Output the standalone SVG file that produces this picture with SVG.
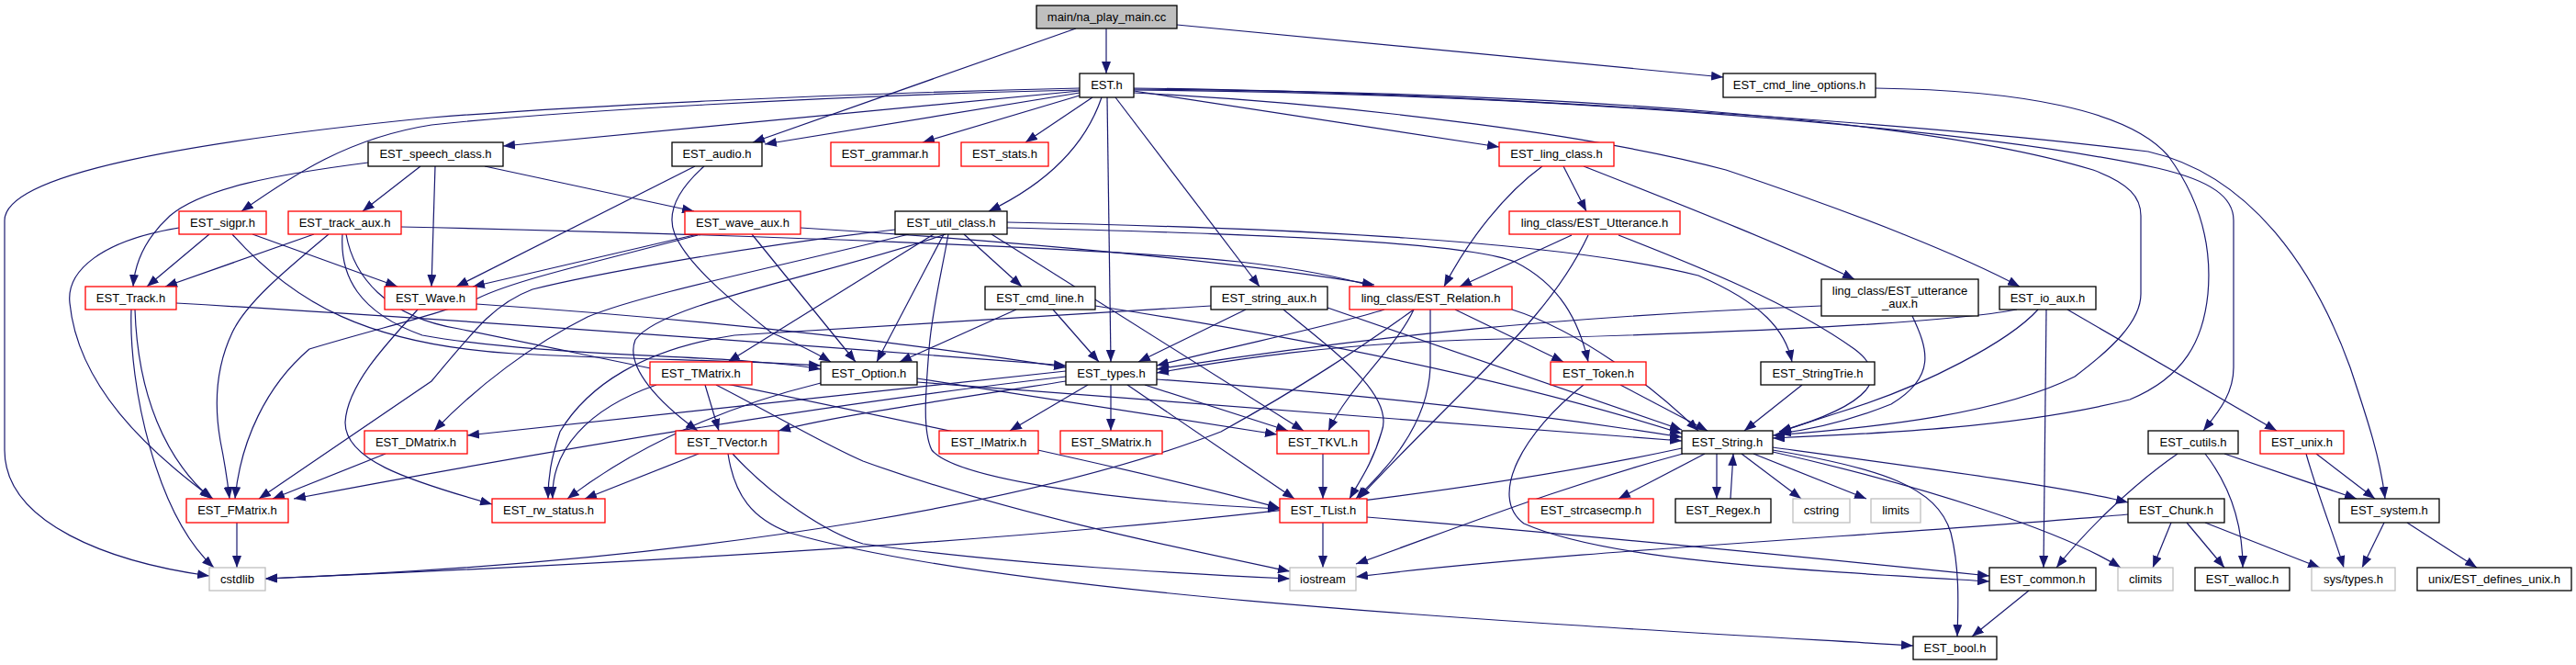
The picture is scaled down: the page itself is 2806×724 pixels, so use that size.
<svg xmlns="http://www.w3.org/2000/svg" width="2806" height="724" viewBox="0 0 2806 724">
<defs>
<marker id="ah" viewBox="0 0 13 10" refX="13" refY="5" markerWidth="13" markerHeight="10" orient="auto" markerUnits="userSpaceOnUse"><path d="M0,0 L13,5 L0,10 z" fill="#191970"/></marker>
</defs>
<style>
.n rect{fill:#fff;stroke-width:1.3}
.b rect{stroke:#000}
.r rect{stroke:#ff0000}
.g rect{stroke:#bfbfbf}
.m rect{fill:#bfbfbf;stroke:#000}
text{font-family:"Liberation Sans",Arial,sans-serif;font-size:13px;fill:#000;text-anchor:middle}
#edges path{fill:none;stroke:#191970;stroke-width:1.2;marker-end:url(#ah)}
</style>
<rect width="2806" height="724" fill="#fff"/>
<g id="edges">
<path d="M1205,31 L1205,80"/>
<path d="M1172,31 L820,155"/>
<path d="M1282,27 L1877,84"/>
<path d="M1176,99 L548,159"/>
<path d="M1176,101 L833,157"/>
<path d="M1176,104 L1005,155"/>
<path d="M1190,106 L1117,155"/>
<path d="M1200,106 C1185,150 1150,195 1077,230"/>
<path d="M1206,106 L1210,394"/>
<path d="M1215,106 L1372,312"/>
<path d="M1235,99 L1633,160"/>
<path d="M1235,101 C1500,115 1750,150 1880,185 C2030,235 2140,280 2200,312"/>
<path d="M1235,96 C1600,100 2100,135 2340,165 C2450,190 2520,290 2560,400 C2580,460 2593,500 2598,543"/>
<path d="M1235,98 C1700,102 2150,140 2350,183 C2410,197 2433,215 2433,240 L2433,400 C2433,430 2415,450 2400,469"/>
<path d="M1235,97 C1700,100 2100,130 2280,185 C2320,200 2332,215 2332,235 L2332,320 C2332,350 2300,380 2260,410 C2180,450 2050,465 1931,474"/>
<path d="M1176,96 C900,102 620,116 470,128 C200,155 5,190 5,240 L5,490 C5,570 120,612 228,627"/>
<path d="M1176,98 C900,104 600,122 470,136 C380,150 320,190 263,230"/>
<path d="M2043,96 C2200,98 2320,120 2362,170 C2395,215 2410,265 2405,320 C2400,370 2380,410 2320,435 C2200,465 2050,472 1931,477"/>
<path d="M401,177 C300,190 220,205 185,235 C160,258 147,285 145,312"/>
<path d="M458,181 L395,230"/>
<path d="M474,181 L470,312"/>
<path d="M528,181 L756,230"/>
<path d="M757,181 L497,312"/>
<path d="M767,181 C740,205 725,230 735,255 C750,290 800,330 840,362 C870,375 890,385 905,394"/>
<path d="M228,255 L160,312"/>
<path d="M275,255 L433,312"/>
<path d="M195,248 C110,262 72,295 76,330 C85,420 160,490 232,543"/>
<path d="M253,255 C320,330 400,375 560,385 C700,392 800,392 894,398"/>
<path d="M342,255 L180,312"/>
<path d="M437,247 C800,255 1200,270 1350,285 C1420,293 1460,302 1497,312"/>
<path d="M358,255 C310,295 268,330 253,362 C235,400 233,440 240,480 C245,505 248,525 250,543"/>
<path d="M373,255 C370,300 390,340 460,365 C600,390 800,385 894,402"/>
<path d="M377,255 C385,300 420,345 500,358 C800,420 1200,500 1394,553"/>
<path d="M760,255 L515,312"/>
<path d="M819,255 L932,394"/>
<path d="M872,248 C1100,262 1350,285 1497,310"/>
<path d="M760,256 C650,285 560,305 520,325 C470,345 420,355 337,380 C290,420 262,480 256,543"/>
<path d="M975,250 C800,270 640,300 580,315 C540,330 520,355 470,415 L282,543"/>
<path d="M990,255 C850,290 700,320 640,345 C580,375 520,420 473,469"/>
<path d="M1017,255 L793,394"/>
<path d="M1030,255 C900,300 720,330 692,370 C680,400 720,440 760,469"/>
<path d="M1050,255 L1113,312"/>
<path d="M1028,255 L955,394"/>
<path d="M1033,255 C1025,300 1015,340 1012,380 C1008,430 1005,470 1015,490 C1040,520 1200,545 1394,554"/>
<path d="M1080,255 L1420,469"/>
<path d="M1097,248 C1400,255 1600,265 1650,285 C1700,310 1720,350 1730,394"/>
<path d="M1097,242 C1400,248 1700,262 1850,300 C1920,330 1945,360 1952,394"/>
<path d="M715,419 C640,445 600,490 602,543"/>
<path d="M768,419 L783,469"/>
<path d="M780,419 C850,455 900,485 940,502 C1100,560 1300,600 1405,622"/>
<path d="M761,494 L637,543"/>
<path d="M798,494 C840,540 900,580 940,592 C1100,615 1300,625 1405,630"/>
<path d="M793,494 C800,540 820,565 860,580 C1100,650 1700,680 2084,703"/>
<path d="M455,337 C420,375 378,420 376,460 C376,500 440,522 536,549"/>
<path d="M519,331 C800,350 1000,375 1161,400"/>
<path d="M192,330 C450,345 800,370 1161,398"/>
<path d="M143,337 C140,420 170,560 233,618"/>
<path d="M147,337 C150,430 180,500 230,543"/>
<path d="M420,494 L297,543"/>
<path d="M258,569 L258,618"/>
<path d="M1319,333 C1100,345 900,358 800,365 C700,380 640,420 610,470 C600,500 597,520 597,543"/>
<path d="M894,417 C800,440 700,480 618,543"/>
<path d="M999,412 L1391,473"/>
<path d="M999,416 C1300,440 1600,460 1832,480"/>
<path d="M1107,337 L980,394"/>
<path d="M1147,337 L1197,394"/>
<path d="M1193,333 C1500,380 1700,430 1832,472"/>
<path d="M1185,419 L1100,469"/>
<path d="M1210,419 L1210,469"/>
<path d="M1247,419 L1403,469"/>
<path d="M1228,419 L1410,543"/>
<path d="M1260,413 C1500,430 1700,455 1832,476"/>
<path d="M1161,404 C900,430 700,455 509,474"/>
<path d="M1161,410 C900,440 600,490 320,543"/>
<path d="M1161,415 C1000,440 900,455 848,469"/>
<path d="M1441,494 L1441,543"/>
<path d="M1441,569 L1441,618"/>
<path d="M1489,563 C1700,580 1950,605 2167,627"/>
<path d="M1765,419 L1860,469"/>
<path d="M1725,419 C1660,470 1620,540 1660,570 C1750,610 1950,620 2167,633"/>
<path d="M1357,337 L1240,394"/>
<path d="M1398,337 C1450,380 1520,430 1505,470 C1495,505 1480,525 1470,543"/>
<path d="M1446,335 L1832,468"/>
<path d="M1508,337 C1450,355 1350,375 1260,398"/>
<path d="M1540,337 C1480,380 1420,420 1330,470 C1150,540 800,610 289,630"/>
<path d="M1540,337 C1520,380 1470,420 1447,469"/>
<path d="M1558,337 L1558,400 C1555,470 1500,520 1477,543"/>
<path d="M1585,337 L1703,394"/>
<path d="M1647,337 C1720,360 1800,420 1850,469"/>
<path d="M1680,181 C1640,210 1600,260 1573,312"/>
<path d="M1703,181 L1728,230"/>
<path d="M1725,181 C1850,230 1950,270 2020,304"/>
<path d="M1712,256 L1590,312"/>
<path d="M1730,256 C1700,320 1650,370 1600,420 C1540,480 1500,520 1480,543"/>
<path d="M1763,256 C1850,290 1950,330 2020,380 C2060,410 2040,440 1938,470"/>
<path d="M1984,333 C1700,345 1500,365 1260,402"/>
<path d="M2083,344 C2100,380 2110,410 2060,440 C2010,460 1970,468 1938,472"/>
<path d="M2197,337 C2100,355 1800,365 1600,370 C1450,375 1350,390 1260,406"/>
<path d="M2220,337 C2190,370 2100,420 2000,450 C1970,460 1950,466 1938,470"/>
<path d="M2229,337 L2226,618"/>
<path d="M2252,337 L2480,469"/>
<path d="M1963,419 L1900,469"/>
<path d="M1870,494 L1870,543"/>
<path d="M1885,543 L1888,494"/>
<path d="M1857,494 L1763,543"/>
<path d="M1897,494 L1962,543"/>
<path d="M1910,494 L2033,543"/>
<path d="M1931,490 C2050,510 2110,530 2125,580 C2135,620 2133,660 2132,693"/>
<path d="M1931,492 C2100,530 2250,580 2310,618"/>
<path d="M1931,487 C2100,510 2250,530 2318,547"/>
<path d="M1833,494 C1700,530 1600,570 1477,614"/>
<path d="M1832,488 C1500,560 1000,600 289,630"/>
<path d="M2318,560 C2100,580 1700,600 1477,628"/>
<path d="M2365,569 L2345,618"/>
<path d="M2382,569 L2423,618"/>
<path d="M2402,569 L2527,618"/>
<path d="M2372,494 C2320,530 2270,580 2240,618"/>
<path d="M2402,494 C2430,530 2443,570 2443,618"/>
<path d="M2423,494 L2567,543"/>
<path d="M2512,494 C2525,540 2545,590 2553,618"/>
<path d="M2523,494 L2587,543"/>
<path d="M2597,569 L2573,618"/>
<path d="M2622,569 L2698,618"/>
<path d="M2210,643 L2148,693"/>
</g>
<g id="n_main" class="n m"><rect x="1129" y="6" width="153" height="25"/><text x="1205.5" y="23">main/na_play_main.cc</text></g>
<g id="n_est" class="n b"><rect x="1176" y="80" width="59" height="26"/><text x="1205.5" y="97">EST.h</text></g>
<g id="n_cmdopts" class="n b"><rect x="1877" y="80" width="166" height="26"/><text x="1960" y="97">EST_cmd_line_options.h</text></g>
<g id="n_speech" class="n b"><rect x="401" y="155" width="147" height="26"/><text x="474.5" y="172">EST_speech_class.h</text></g>
<g id="n_audio" class="n b"><rect x="732" y="155" width="98" height="26"/><text x="781" y="172">EST_audio.h</text></g>
<g id="n_grammar" class="n r"><rect x="905" y="155" width="118" height="26"/><text x="964" y="172">EST_grammar.h</text></g>
<g id="n_stats" class="n r"><rect x="1047" y="155" width="95" height="26"/><text x="1094.5" y="172">EST_stats.h</text></g>
<g id="n_ling" class="n r"><rect x="1633" y="155" width="125" height="26"/><text x="1695.5" y="172">EST_ling_class.h</text></g>
<g id="n_sigpr" class="n r"><rect x="195" y="230" width="95" height="25"/><text x="242.5" y="247">EST_sigpr.h</text></g>
<g id="n_trackaux" class="n r"><rect x="314" y="230" width="123" height="25"/><text x="375.5" y="247">EST_track_aux.h</text></g>
<g id="n_waveaux" class="n r"><rect x="746" y="230" width="126" height="25"/><text x="809" y="247">EST_wave_aux.h</text></g>
<g id="n_util" class="n b"><rect x="975" y="230" width="122" height="25"/><text x="1036" y="247">EST_util_class.h</text></g>
<g id="n_utt" class="n r"><rect x="1644" y="230" width="186" height="25"/><text x="1737" y="247">ling_class/EST_Utterance.h</text></g>
<g id="n_track" class="n r"><rect x="93" y="312" width="99" height="25"/><text x="142.5" y="329">EST_Track.h</text></g>
<g id="n_wave" class="n r"><rect x="419" y="312" width="100" height="25"/><text x="469" y="329">EST_Wave.h</text></g>
<g id="n_cmdline" class="n b"><rect x="1073" y="312" width="120" height="25"/><text x="1133" y="329">EST_cmd_line.h</text></g>
<g id="n_straux" class="n b"><rect x="1319" y="312" width="127" height="25"/><text x="1382.5" y="329">EST_string_aux.h</text></g>
<g id="n_rel" class="n r"><rect x="1470" y="312" width="177" height="25"/><text x="1558.5" y="329">ling_class/EST_Relation.h</text></g>
<g id="n_uttaux" class="n b"><rect x="1984" y="304" width="171" height="40"/><text x="2069.5" y="321">ling_class/EST_utterance</text><text x="2069.5" y="335">_aux.h</text></g>
<g id="n_ioaux" class="n b"><rect x="2178" y="312" width="105" height="25"/><text x="2230.5" y="329">EST_io_aux.h</text></g>
<g id="n_tmatrix" class="n r"><rect x="708" y="394" width="111" height="25"/><text x="763.5" y="411">EST_TMatrix.h</text></g>
<g id="n_option" class="n b"><rect x="894" y="394" width="105" height="25"/><text x="946.5" y="411">EST_Option.h</text></g>
<g id="n_types" class="n b"><rect x="1161" y="394" width="99" height="25"/><text x="1210.5" y="411">EST_types.h</text></g>
<g id="n_token" class="n r"><rect x="1689" y="394" width="104" height="25"/><text x="1741" y="411">EST_Token.h</text></g>
<g id="n_strtrie" class="n b"><rect x="1918" y="394" width="124" height="25"/><text x="1980" y="411">EST_StringTrie.h</text></g>
<g id="n_dmatrix" class="n r"><rect x="397" y="469" width="112" height="25"/><text x="453" y="486">EST_DMatrix.h</text></g>
<g id="n_tvector" class="n r"><rect x="736" y="469" width="112" height="25"/><text x="792" y="486">EST_TVector.h</text></g>
<g id="n_imatrix" class="n r"><rect x="1023" y="469" width="108" height="25"/><text x="1077" y="486">EST_IMatrix.h</text></g>
<g id="n_smatrix" class="n r"><rect x="1155" y="469" width="111" height="25"/><text x="1210.5" y="486">EST_SMatrix.h</text></g>
<g id="n_tkvl" class="n r"><rect x="1391" y="469" width="100" height="25"/><text x="1441" y="486">EST_TKVL.h</text></g>
<g id="n_string" class="n b"><rect x="1832" y="469" width="99" height="25"/><text x="1881.5" y="486">EST_String.h</text></g>
<g id="n_cutils" class="n b"><rect x="2340" y="469" width="98" height="25"/><text x="2389" y="486">EST_cutils.h</text></g>
<g id="n_unix" class="n r"><rect x="2462" y="469" width="91" height="25"/><text x="2507.5" y="486">EST_unix.h</text></g>
<g id="n_fmatrix" class="n r"><rect x="203" y="543" width="111" height="26"/><text x="258.5" y="560">EST_FMatrix.h</text></g>
<g id="n_rw" class="n r"><rect x="536" y="543" width="123" height="26"/><text x="597.5" y="560">EST_rw_status.h</text></g>
<g id="n_tlist" class="n r"><rect x="1394" y="543" width="95" height="26"/><text x="1441.5" y="560">EST_TList.h</text></g>
<g id="n_strcase" class="n r"><rect x="1665" y="543" width="136" height="26"/><text x="1733" y="560">EST_strcasecmp.h</text></g>
<g id="n_regex" class="n b"><rect x="1825" y="543" width="104" height="26"/><text x="1877" y="560">EST_Regex.h</text></g>
<g id="n_cstring" class="n g"><rect x="1953" y="543" width="62" height="26"/><text x="1984" y="560">cstring</text></g>
<g id="n_limits" class="n g"><rect x="2038" y="543" width="54" height="26"/><text x="2065" y="560">limits</text></g>
<g id="n_chunk" class="n b"><rect x="2318" y="543" width="105" height="26"/><text x="2370.5" y="560">EST_Chunk.h</text></g>
<g id="n_system" class="n b"><rect x="2548" y="543" width="109" height="26"/><text x="2602.5" y="560">EST_system.h</text></g>
<g id="n_cstdlib" class="n g"><rect x="228" y="618" width="61" height="25"/><text x="258.5" y="635">cstdlib</text></g>
<g id="n_iostream" class="n g"><rect x="1405" y="618" width="72" height="25"/><text x="1441" y="635">iostream</text></g>
<g id="n_common" class="n b"><rect x="2167" y="618" width="116" height="25"/><text x="2225" y="635">EST_common.h</text></g>
<g id="n_climits" class="n g"><rect x="2307" y="618" width="60" height="25"/><text x="2337" y="635">climits</text></g>
<g id="n_walloc" class="n b"><rect x="2391" y="618" width="103" height="25"/><text x="2442.5" y="635">EST_walloc.h</text></g>
<g id="n_systypes" class="n g"><rect x="2518" y="618" width="91" height="25"/><text x="2563.5" y="635">sys/types.h</text></g>
<g id="n_defunix" class="n b"><rect x="2633" y="618" width="168" height="25"/><text x="2717" y="635">unix/EST_defines_unix.h</text></g>
<g id="n_bool" class="n b"><rect x="2084" y="693" width="91" height="25"/><text x="2129.5" y="710">EST_bool.h</text></g>
</svg>
